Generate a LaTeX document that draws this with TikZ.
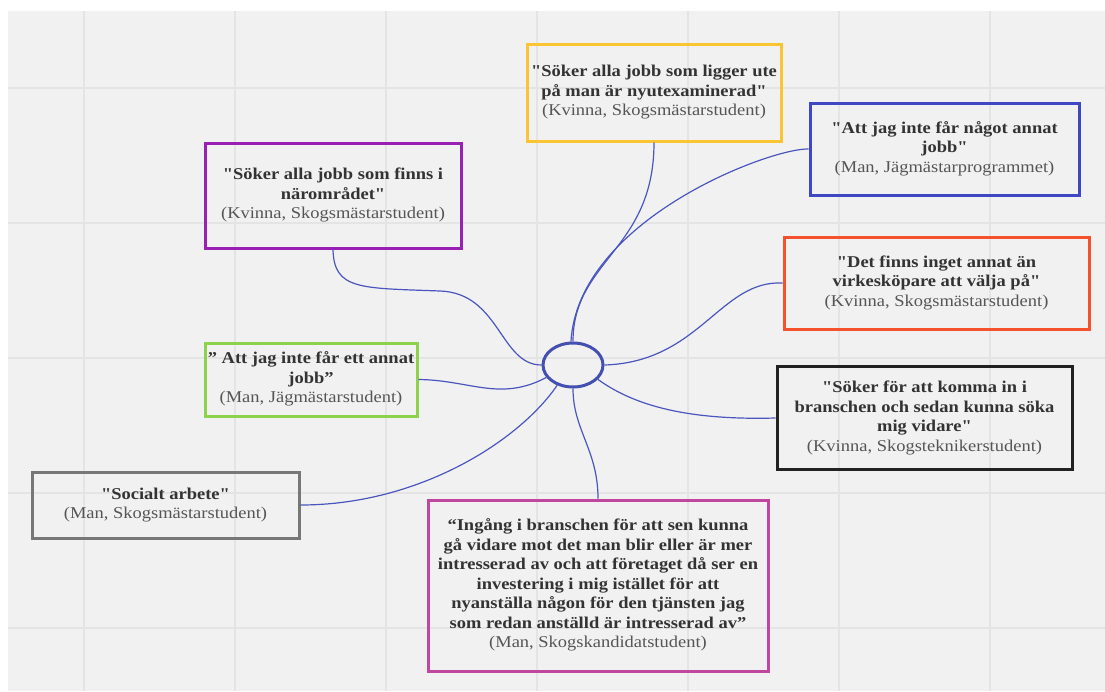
\documentclass[tikz,border=0pt]{standalone}
\usepackage{fontspec}
\usepackage{graphicx}
\setmainfont{Liberation Serif}[Ligatures=TeXOff]
\usetikzlibrary{shapes.geometric}
\definecolor{bgc}{HTML}{F1F1F1}
\definecolor{gridc}{HTML}{E4E4E4}
\definecolor{linkc}{HTML}{4A55BE}
\definecolor{hubc}{HTML}{4350B0}
\definecolor{cyel}{HTML}{F9C532}
\definecolor{cblu}{HTML}{3F48C4}
\definecolor{cpur}{HTML}{9A1FB3}
\definecolor{cred}{HTML}{F4512C}
\definecolor{cgrn}{HTML}{8CD24C}
\definecolor{cblk}{HTML}{222222}
\definecolor{cgry}{HTML}{777777}
\definecolor{cmag}{HTML}{C0479E}
\definecolor{qtc}{HTML}{333333}
\definecolor{affc}{HTML}{555555}
\newcommand{\bq}[1]{\textbf{#1}}
\newcommand{\affl}[1]{\textcolor{affc}{#1}}
\newcommand{\dq}{"}
\newcommand{\tx}[1]{\scalebox{1.12}[1]{\begin{tabular}{@{}c@{}}#1\end{tabular}}}
\begin{document}
\begin{tikzpicture}[x=1pt,y=-1pt,
  box/.style={draw, line width=3pt, rectangle, inner sep=0pt, align=center, text=qtc,
    font=\fontsize{16.5}{19.5}\selectfont},
  link/.style={draw=linkc, line width=1.2pt},
  hubst/.style={ellipse, draw=hubc, line width=3pt, minimum width=60pt, minimum height=44pt, inner sep=0pt}]
\useasboundingbox (0,0) rectangle (1105,691);
\fill[white] (0,0) rectangle (1105,691);
\fill[bgc] (8,11) rectangle (1105,691);
\foreach \x in {84,235,386,537,688,839,990} \draw[gridc, line width=1.5pt] (\x,11) -- (\x,691);
\foreach \y in {88,223,358,493,628} \draw[gridc, line width=1.5pt] (8,\y) -- (1105,\y);

\node[hubst] (hub) at (573,365) {};

\node[box, draw=cyel, minimum width=254pt, minimum height=97pt] (yel) at (654,92.5)
  {\tx{\bq{\dq Söker alla jobb som ligger ute}\\ \bq{på man är nyutexaminerad\dq}\\ \affl{(Kvinna, Skogsmästarstudent)}}};
\node[box, draw=cblu, minimum width=269pt, minimum height=92pt] (blu) at (944.5,149)
  {\tx{\bq{\dq Att jag inte får något annat}\\ \bq{jobb\dq}\\ \affl{(Man, Jägmästarprogrammet)}}};
\node[box, draw=cpur, minimum width=256pt, minimum height=105pt] (pur) at (333,195.5)
  {\tx{\bq{\dq Söker alla jobb som finns i}\\ \bq{närområdet\dq}\\ \affl{(Kvinna, Skogsmästarstudent)}}};
\node[box, draw=cred, minimum width=305pt, minimum height=92pt] (red) at (936.5,283)
  {\tx{\bq{\dq Det finns inget annat än}\\ \bq{virkesköpare att välja på\dq}\\ \affl{(Kvinna, Skogsmästarstudent)}}};
\node[box, draw=cgrn, minimum width=212pt, minimum height=73pt] (grn) at (311,379.5)
  {\tx{\bq{” Att jag inte får ett annat}\\ \bq{jobb”}\\ \affl{(Man, Jägmästarstudent)}}};
\node[box, draw=cblk, minimum width=295pt, minimum height=103pt] (blk) at (924.5,418)
  {\tx{\bq{\dq Söker för att komma in i}\\ \bq{branschen och sedan kunna söka}\\ \bq{mig vidare\dq}\\ \affl{(Kvinna, Skogsteknikerstudent)}}};
\node[box, draw=cgry, minimum width=267pt, minimum height=66pt] (gry) at (165.5,505)
  {\tx{\bq{\dq Socialt arbete\dq}\\ \affl{(Man, Skogsmästarstudent)}}};
\node[box, draw=cmag, minimum width=340pt, minimum height=171pt] (mag) at (598,585.5)
  {\tx{\bq{“Ingång i branschen för att sen kunna}\\ \bq{gå vidare mot det man blir eller är mer}\\
   \bq{intresserad av och att företaget då ser en}\\ \bq{investering i mig istället för att}\\
   \bq{nyanställa någon för den tjänsten jag}\\ \bq{som redan anställd är intresserad av”}\\
   \affl{(Man, Skogskandidatstudent)}}};

\draw[link] (yel.south) .. controls (654,250) and (573,260) .. (hub.north);
\draw[link] (blu.west) .. controls (770,148) and (578,220) .. (hub.95);
\draw[link] (pur.south) .. controls (334,290) and (360,288) .. (440,291) .. controls (500,293) and (500,365) .. (hub.west);
\draw[link] (grn.east) .. controls (470,380) and (500,402) .. (hub.205);
\draw[link] (gry.east) .. controls (420,505) and (520,440) .. (hub.232);
\draw[link] (mag.north) .. controls (598,450) and (573,430) .. (hub.south);
\draw[link] (blk.west) .. controls (700,420) and (640,410) .. (hub.330);
\draw[link] (red.west) .. controls (720,280) and (700,362) .. (hub.east);
\end{tikzpicture}
\end{document}
